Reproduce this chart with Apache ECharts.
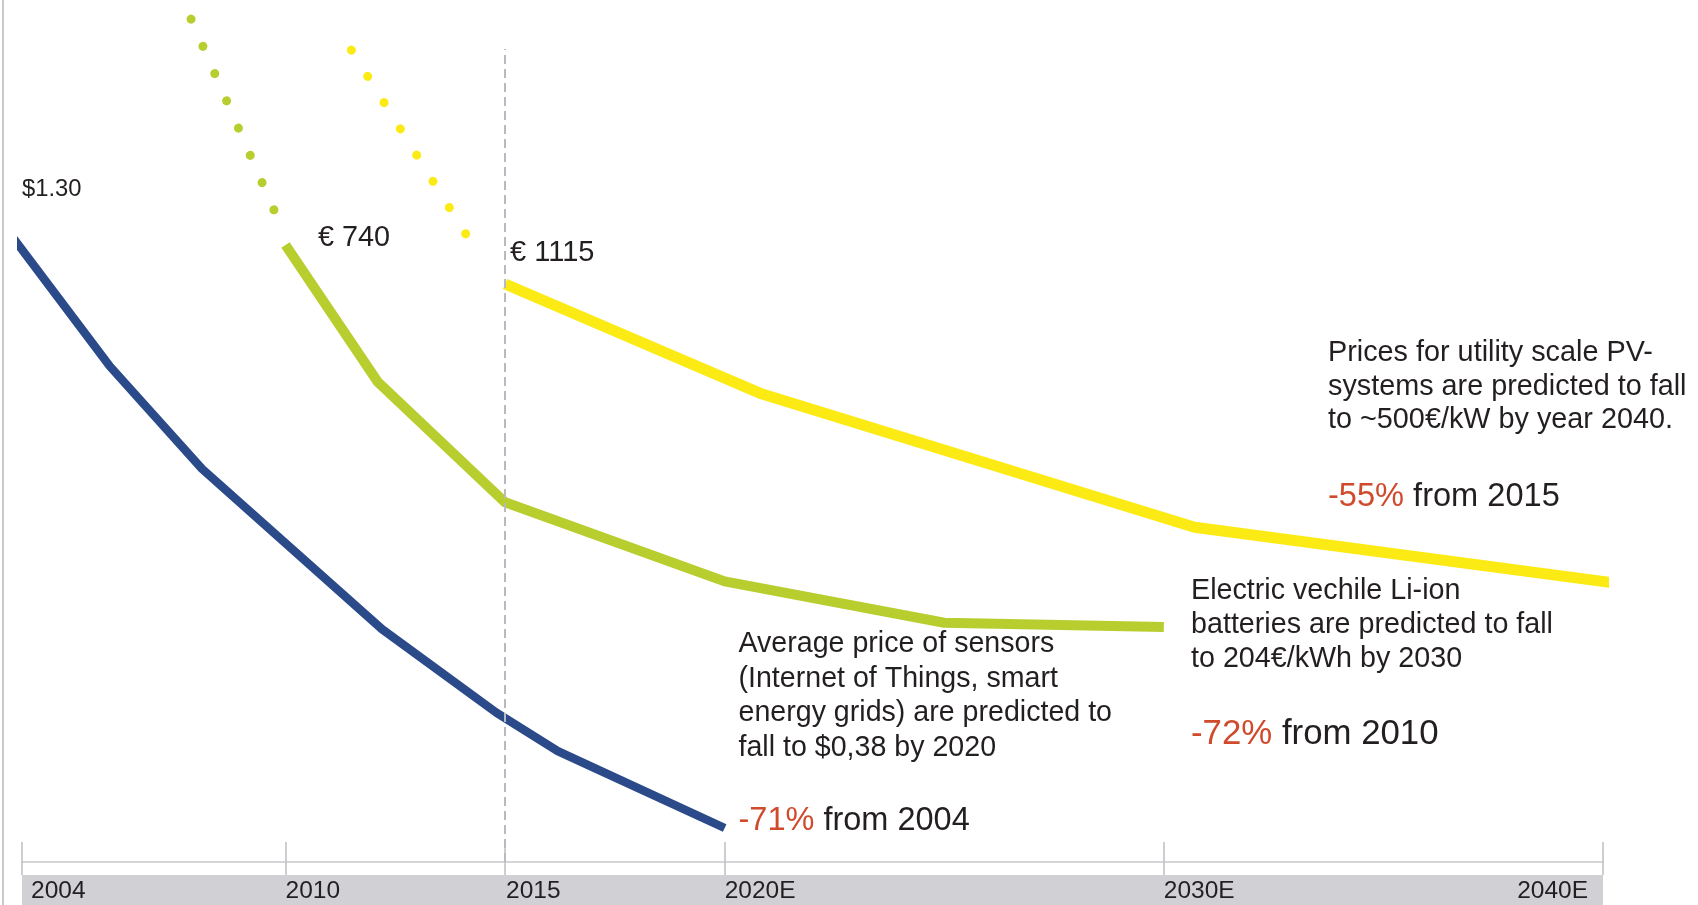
<!DOCTYPE html>
<html><head><meta charset="utf-8">
<script src="https://cdn.jsdelivr.net/npm/echarts@6/dist/echarts.min.js"></script>
<style>html,body{margin:0;padding:0;background:#fff}#c{width:1698px;height:905px;position:absolute;left:0;top:0}#edge{position:absolute;left:2px;top:0;width:2px;height:905px;background:#C9C9CC}</style>
</head><body><div id="c"></div><div id="edge"></div>
<script>
// ---- data ----
const tickYears = [2004, 2010, 2015, 2020, 2030, 2040];
const tickLabels = ['2004', '2010', '2015', '2020E', '2030E', '2040E'];

const sensorYears  = [2003.8, 2006.0, 2008.1, 2012.2, 2014.8, 2016.2, 2020];
const sensorPrices = [1.30, 1.10, 0.94, 0.69, 0.56, 0.50, 0.38];          // $ per sensor

const batteryYears  = [2010, 2012.1, 2015, 2020, 2025, 2030];
const batteryPrices = [740, 548, 379, 268, 210, 204];                    // EUR/kWh
const batteryPastYears  = [2007.85, 2010];
const batteryPastPrices = [1057, 752];

const pvYears  = [2015, 2020.8, 2030.7, 2040.6];
const pvPrices = [1115, 892, 618, 500];                                   // EUR/kW
const pvPastYears  = [2011.5, 2014.46];
const pvPastPrices = [1593, 1166];

const dividerYear = 2015;

const sensorStartLabel = '$1.30';
const batteryStartLabel = '\u20AC 740';
const pvStartLabel = '\u20AC 1115';
const pvNote = 'Prices for utility scale PV-\nsystems are predicted to fall\nto ~500\u20AC/kW by year 2040.';
const pvChange = ['-55%', ' from 2015'];
const batteryNote = 'Electric vechile Li-ion\nbatteries are predicted to fall\nto 204\u20AC/kWh by 2030';
const batteryChange = ['-72%', ' from 2010'];
const sensorNote = 'Average price of sensors\n(Internet of Things, smart\nenergy grids) are predicted to\nfall to $0,38 by 2020';
const sensorChange = ['-71%', ' from 2004'];

// ---- styles ----
const BLUE = '#2B4A8A', GREEN = '#B8CE2F', YELLOW = '#FCEA14', RED = '#D04A2C', TXT = '#231F20';
const FF = '"Liberation Sans", Arial, sans-serif';
const TICK = {color: '#BEBEC4', width: 1.5};
const AX = 24.5;

function pts(xs, ys) { return xs.map((x, i) => [x, ys[i]]); }
function labelFor(v) { const i = tickYears.indexOf(v); return i < 0 ? '' : tickLabels[i]; }

const chart = echarts.init(document.getElementById('c'), null, {renderer: 'canvas'});
chart.setOption({
  animation: false,
  backgroundColor: '#ffffff',
  grid: [
    {left: 22, right: 95, top: 49, bottom: 43, show: false},
    {left: 22, right: 95, top: 875, height: 30, show: true, backgroundColor: '#D1D0D5', borderWidth: 0}
  ],
  xAxis: [
    {gridIndex: 0, type: 'value', min: 2004, max: 2040,
      axisLine: {show: true, onZero: false, lineStyle: {color: '#D5D5D8', width: 2}},
      axisTick: {show: true, inside: true, length: 20, customValues: tickYears, lineStyle: TICK},
      axisLabel: {show: false}, splitLine: {show: false}},
    {gridIndex: 1, type: 'value', position: 'top', min: 2004, max: 2040,
      axisLine: {show: false, onZero: false},
      axisTick: {show: true, length: 13, customValues: tickYears, lineStyle: TICK},
      axisLabel: {show: true, inside: true, margin: 4, align: 'left', customValues: tickYears.slice(0, 5),
        fontFamily: FF, fontSize: AX, color: TXT,
        formatter: v => {
          const t = labelFor(v);
          if (v === 2004) return '{a|' + t + '}';
          if (v === 2015) return '{c|' + t + '}';
          return '{b|' + t + '}';
        },
        rich: {
          a: {fontFamily: FF, fontSize: AX, color: TXT, padding: [0, 0, 0, 9]},
          b: {fontFamily: FF, fontSize: AX, color: TXT, padding: [0, 0, 0, 0]},
          c: {fontFamily: FF, fontSize: AX, color: TXT, padding: [0, 0, 0, 1]}
        }},
      splitLine: {show: false}},
    {gridIndex: 1, type: 'value', position: 'bottom', min: 2004, max: 2040,
      axisLine: {show: false, onZero: false}, axisTick: {show: false},
      axisLabel: {show: true, inside: true, margin: 1, align: 'right', customValues: [tickYears[5]],
        fontFamily: FF, fontSize: AX, color: TXT,
        formatter: v => '{r|' + labelFor(v) + '}',
        rich: {r: {fontFamily: FF, fontSize: AX, color: TXT, padding: [0, 15, 0, 0]}}},
      splitLine: {show: false}}
  ],
  yAxis: [
    {gridIndex: 0, type: 'value', show: false, min: 0.327, max: 1.5947, splitLine: {show: false}},
    {gridIndex: 0, type: 'value', show: false, min: -125.7, max: 1015, splitLine: {show: false}},
    {gridIndex: 0, type: 'value', show: false, min: -66, max: 1595.2, splitLine: {show: false}},
    {gridIndex: 1, type: 'value', show: false, min: 0, max: 1}
  ],
  series: [
    {type: 'line', name: 'PV divider', xAxisIndex: 0, yAxisIndex: 2, data: [], silent: true,
      markLine: {silent: true, symbol: 'none', label: {show: false},
        lineStyle: {color: '#B9B9C2', width: 2, type: [9, 5]},
        data: [{xAxis: dividerYear}]}},
    {type: 'line', name: 'Batteries (past)', xAxisIndex: 0, yAxisIndex: 1, clip: false, symbol: 'none',
      data: pts(batteryPastYears, batteryPastPrices),
      lineStyle: {color: GREEN, width: 9, type: [0.1, 29.6], cap: 'round'}},
    {type: 'line', name: 'PV (past)', xAxisIndex: 0, yAxisIndex: 2, clip: false, symbol: 'none',
      data: pts(pvPastYears, pvPastPrices),
      lineStyle: {color: YELLOW, width: 9, type: [0.1, 30.8], cap: 'round'}},
    {type: 'line', name: 'PV systems', xAxisIndex: 0, yAxisIndex: 2, clip: false, symbol: 'none',
      data: pts(pvYears, pvPrices),
      lineStyle: {color: YELLOW, width: 11, join: 'round'}},
    {type: 'line', name: 'Li-ion batteries', xAxisIndex: 0, yAxisIndex: 1, clip: false, symbol: 'none',
      data: pts(batteryYears, batteryPrices),
      lineStyle: {color: GREEN, width: 10, join: 'round'}},
    {type: 'line', name: 'Sensors', xAxisIndex: 0, yAxisIndex: 0, clip: false, symbol: 'none',
      data: pts(sensorYears, sensorPrices),
      lineStyle: {color: BLUE, width: 8.5, join: 'round'}}
  ],
  graphic: [
    {type: 'text', x: 22, y: 189, silent: true, style: {text: sensorStartLabel, font: '23.8px ' + FF, fill: TXT, verticalAlign: 'middle'}},
    {type: 'text', x: 318, y: 238, silent: true, style: {text: batteryStartLabel, font: '28.8px ' + FF, fill: TXT, verticalAlign: 'middle'}},
    {type: 'text', x: 510, y: 253, silent: true, style: {text: pvStartLabel, font: '29px ' + FF, fill: TXT, verticalAlign: 'middle'}},

    {type: 'text', x: 1328, y: 336.5, silent: true, style: {text: pvNote, font: '28.8px ' + FF, fill: TXT, lineHeight: 33.5, verticalAlign: 'top'}},
    {type: 'text', x: 1328, y: 497, silent: true, style: {text: '{r|' + pvChange[0] + '}' + pvChange[1], font: '32.6px ' + FF, fill: TXT, verticalAlign: 'middle',
      rich: {r: {fill: RED, font: '32.6px ' + FF}}}},

    {type: 'text', x: 1191, y: 574.5, silent: true, style: {text: batteryNote, font: '28.7px ' + FF, fill: TXT, lineHeight: 34, verticalAlign: 'top'}},
    {type: 'text', x: 1191, y: 734, silent: true, style: {text: '{r|' + batteryChange[0] + '}' + batteryChange[1], font: '34.8px ' + FF, fill: TXT, verticalAlign: 'middle',
      rich: {r: {fill: RED, font: '34.8px ' + FF}}}},

    {type: 'text', x: 738.5, y: 626.6, silent: true, style: {text: sensorNote, font: '28.6px ' + FF, fill: TXT, lineHeight: 34.7, verticalAlign: 'top'}},
    {type: 'text', x: 738.5, y: 821, silent: true, style: {text: '{r|' + sensorChange[0] + '}' + sensorChange[1], font: '32.5px ' + FF, fill: TXT, verticalAlign: 'middle',
      rich: {r: {fill: RED, font: '32.5px ' + FF}}}}
  ]
});
</script>
</body></html>
